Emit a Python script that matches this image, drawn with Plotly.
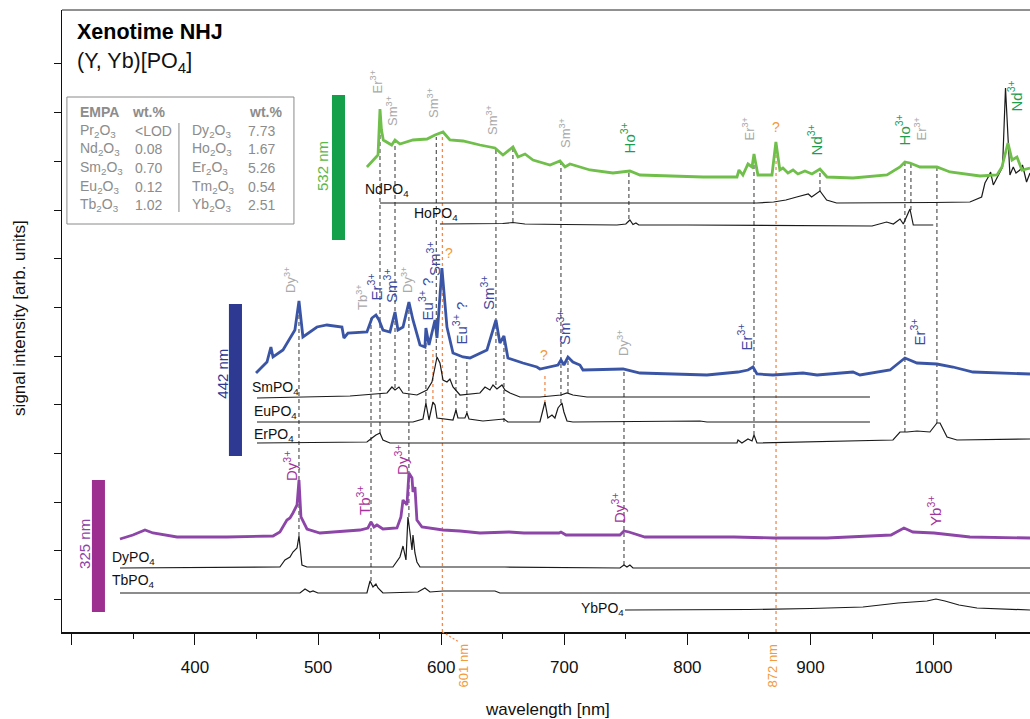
import plotly.graph_objects as go

# ---------------- axis ranges ----------------
X_RANGE = [292.0, 1078.3]
Y_RANGE = [0, 622]
x_major = [300, 400, 500, 600, 700, 800, 900, 1000]
x_major_text = ["", "400", "500", "600", "700", "800", "900", "1000"]
y_ticks = [33, 82, 130, 179, 228, 276, 325, 374, 422, 471, 520, 569]

# ---------------- spectra (wavelength nm, signal arb. units) ----------------
wl_532 = [539.7, 544.6, 548.7, 550.3, 551.5, 553.0, 559.8, 562.5, 566.5, 577.1, 588.5, 595.0, 601.5, 607.1,
          617.7, 631.5, 643.7, 650.2, 658.3, 662.4, 668.1, 674.6, 688.4, 696.5, 700.6, 704.6, 720.9, 739.5,
          753.3, 761.5, 794.0, 812.7, 840.3, 841.9, 845.1, 849.2, 852.5, 854.1, 857.3, 868.7, 871.9, 875.1,
          877.6, 881.7, 885.8, 889.8, 895.5, 901.2, 907.7, 913.4, 934.5, 962.1, 972.7, 976.7, 980.8, 988.9,
          1002.7, 1013.3, 1037.7, 1051.5, 1055.5, 1060.4, 1063.7, 1067.7, 1071.8, 1078.3]
sig_532 = [13, 20, 25, 71, 50, 40, 35, 40, 36, 40, 41, 45, 48, 40,
           39, 35, 32, 25, 33, 23, 26, 20, 15, 19, 13, 16, 10, 7,
           9, 5, 4, 3, 3, 10, 5, 16, 13, 26, 5, 5, 38, 10,
           12, 7, 10, 6, 9, 6, 11, 3, 2, 5, 13, 18, 17, 13,
           13, 8, 4, 5, 13, 37, 20, 23, 10, 12]

wl_nd = [550.3, 856.3, 870.0, 880.0, 888.8, 898.2, 900.9, 907.7, 913.1, 921.2, 1000.0, 1029.5, 1039.0, 1041.7,
         1044.4, 1046.3, 1048.5, 1053.9, 1056.0, 1058.4, 1060.6, 1062.0, 1064.7, 1066.9, 1070.1, 1072.2,
         1075.5, 1078.3]
sig_nd = [0, 0, 1, 3, 6, 9, 6, 12, 3, 0, 0.5, 1, 6, 20,
          26, 31, 18, 30, 36, 115, 63, 28, 36, 30, 33, 38,
          21, 30]

wl_ho = [599.0, 640.0, 650.0, 658.3, 668.0, 700.0, 742.8, 750.0, 753.3, 755.8, 758.2, 760.5, 800.0, 950.0,
         961.8, 967.3, 972.7, 975.4, 980.8, 983.5, 999.7]
sig_ho = [1, 1, 1.5, 2.5, 1, 0.5, 0, 1, 5, 0.5, 2, 0, 0, -1,
          3, 1, 6, 1, 16, 0, 0]

wl_442 = [449.6, 458.5, 461.7, 463.4, 471.5, 481.2, 484.5, 487.7, 499.1, 507.2, 519.4, 521.0, 524.3, 539.7,
          543.8, 547.0, 549.5, 552.7, 558.4, 562.5, 564.9, 569.0, 573.8, 577.1, 582.8, 586.8, 587.6, 590.1,
          595.0, 596.6, 600.6, 604.7, 609.6, 617.7, 623.4, 637.2, 644.5, 647.7, 651.0, 654.2, 666.4, 677.8,
          680.2, 694.9, 697.3, 699.7, 703.0, 707.0, 712.7, 715.2, 747.7, 751.7, 761.5, 815.9, 837.0, 841.1,
          849.2, 853.3, 856.5, 869.5, 893.9, 905.3, 934.5, 940.2, 964.6, 976.7, 986.5, 1002.7, 1015.7,
          1032.0, 1078.3]
sig_442 = [2, 13, 28, 18, 25, 45, 74, 38, 48, 50, 48, 37, 42, 43,
           57, 60, 55, 45, 43, 63, 45, 48, 73, 55, 30, 28, 47, 30,
           55, 37, 107, 48, 22, 18, 17, 25, 55, 32, 39, 17, 12, 8,
           6, 10, 15, 10, 18, 13, 10, 5, 6, 5, 2, 0, 2, 3,
           5, 8, 1, 0, 2, 0, 3, 0, 5, 17, 12, 11, 8,
           3, 1]

wl_sm = [450.4, 525.9, 556.0, 560.0, 562.5, 565.7, 569.0, 580.3, 588.5, 592.5, 595.0, 596.6, 599.0, 601.5,
         604.7, 607.1, 609.6, 615.3, 631.5, 635.6, 639.6, 642.1, 645.3, 649.4, 651.8, 655.9, 664.0, 680.2,
         697.3, 702.2, 707.0, 718.4, 948.3]
sig_sm = [0, 2, 5, 11, 8, 11, 5, 3, 8, 16, 31, 41, 35, 18,
          16, 19, 11, 3, 5, 11, 8, 13, 9, 13, 8, 5, 1, 1,
          3, 5, 3, 1, 1]

wl_eu = [450.4, 577.1, 585.2, 587.6, 590.1, 591.7, 593.3, 595.0, 596.6, 609.6, 612.0, 613.6, 619.3, 620.9,
         622.6, 633.9, 651.0, 654.2, 680.2, 684.3, 686.7, 690.0, 692.4, 694.9, 698.1, 699.7, 702.2, 707.0,
         810.2, 815.9, 948.3]
sig_eu = [0, 0, 3, 19, 2, 10, 20, 17, 4, 2, 12, 4, 4, 9,
          3, 1, 3, 0, 0, 20, 4, 7, 4, 14, 19, 10, 1, 0,
          1, 0, 0]

wl_er = [450.4, 539.7, 543.8, 547.0, 550.3, 552.7, 558.4, 840.3, 841.1, 844.3, 849.2, 852.5, 854.1, 856.5,
         967.0, 972.7, 978.4, 986.5, 997.0, 1002.7, 1005.2, 1010.9, 1019.0, 1078.3]
sig_er = [0, 1, 5, 8, 10, 3, 0, 0, 3, 0, 4, 2, 8, 0,
          3, 11, 11, 12, 11, 20, 20, 6, 3, 4]

wl_325 = [339.1, 349.6, 359.4, 365.9, 385.4, 426.0, 463.4, 469.0, 474.7, 477.2, 479.6, 482.9, 484.5, 486.1,
          491.0, 501.5, 534.0, 540.5, 543.0, 545.4, 547.8, 552.7, 564.1, 567.3, 569.0, 572.2, 573.8, 576.3,
          577.1, 578.7, 580.3, 584.4, 601.5, 615.3, 631.5, 655.1, 667.2, 695.7, 697.3, 701.4, 745.2, 748.5,
          752.5, 765.5, 837.8, 870.3, 913.4, 965.4, 975.9, 983.2, 1000.3, 1029.5, 1078.3]
sig_325 = [1, 5, 10, 7, 3, 3, 4, 8, 20, 22, 27, 35, 60, 23,
           11, 7, 10, 12, 18, 13, 15, 11, 12, 23, 40, 35, 67, 62,
           48, 53, 20, 13, 10, 9, 7, 8, 7, 7, 8, 5, 5, 9,
           8, 3, 3, 2, 2, 5, 12, 8, 7, 3, 2]

wl_dy = [339.1, 469.0, 473.1, 477.2, 479.6, 482.9, 484.5, 486.9, 491.0, 560.8, 566.5, 569.0, 571.4, 573.0,
         574.6, 576.3, 577.1, 578.7, 580.3, 582.8, 651.8, 745.2, 748.5, 750.9, 753.3, 755.8, 1078.3]
sig_dy = [0, 1, 8, 11, 16, 20, 32, 3, 1, 1, 11, 22, 8, 51,
          36, 18, 33, 15, 6, 1, 1, 0, 3, 1, 3, 0, 0]

wl_tb = [339.1, 485.3, 489.4, 493.4, 495.9, 499.9, 539.7, 542.2, 544.6, 547.0, 548.7, 552.7, 581.1, 586.8,
         590.9, 601.5, 643.7, 647.7, 1078.3]
sig_tb = [0, 0, 4, 1, 2, 0, 0, 12, 6, 9, 5, 0, 1, 5,
          1, 2, 2, 0, 0]

wl_yb = [749.3, 850.0, 900.0, 942.6, 971.1, 994.6, 1001.9, 1009.2, 1020.6, 1035.2, 1078.3]
sig_yb = [0, 0.5, 1.5, 3, 7, 9, 11, 9, 5, 2, 0]

# vertical stacking offsets of each trace
baseline_532, baseline_nd, baseline_ho = 452, 429, 407
baseline_442, baseline_sm, baseline_eu, baseline_er = 257, 234, 210, 189
baseline_325, baseline_dy, baseline_tb, baseline_yb = 92, 64, 39, 22

# ---------------- guide lines (wavelength, top, bottom) ----------------
guide_wl = [550.3, 562.5, 596.0, 644.5, 658.3, 697.3, 703.0, 752.5, 854.1, 907.7, 976.7, 981.6, 1002.7,
            484.5, 543.0, 573.8, 587.6, 612.0, 620.9, 651.0, 748.5]
guide_top = [522, 490, 495, 482, 484, 471, 272, 461, 478, 463, 470, 469, 465,
             329, 314, 329, 292, 274, 274, 295, 264]
guide_bottom = [199, 244, 275, 247, 410, 229, 239, 413, 197, 441, 200, 422, 209,
                96, 51, 115, 229, 220, 217, 210, 67]
orange_wl = [601.0, 872.0, 593.3, 684.3]
orange_top = [500, 489, 282, 257]
orange_bottom = [0, 0, 227, 229]

# ---------------- ion labels ----------------
label_text = ["Er", "Sm", "Sm", "Sm", "Sm", "Ho", "Er", "Nd", "Ho", "Er", "Nd",
              "Dy", "Tb", "Er", "Sm", "Dy", "Eu", "Sm", "Eu", "Sm", "Sm", "Dy", "Er", "Er",
              "Dy", "Tb", "Dy", "Dy", "Yb"]
label_wl = [547.0, 560.0, 593.3, 641.3, 700.6, 751.7, 849.2, 903.6, 975.1, 988.9, 1066.1,
            477.2, 535.7, 546.2, 558.4, 572.2, 587.6, 593.3, 615.3, 637.2, 698.9, 747.7, 846.8, 987.3,
            477.2, 536.5, 567.3, 743.6, 1000.3]
label_y = [537, 504, 512, 495, 482, 477, 490, 475, 485, 490, 519,
           337, 320, 330, 327, 337, 310, 354, 285, 320, 285, 274, 279, 285,
           149, 115, 155, 107, 104]
label_kind = ["gray", "gray", "gray", "gray", "gray", "green", "gray", "green", "green", "gray", "green",
              "gray", "gray", "blue", "blue", "gray", "blueq", "blue", "blueq", "blue", "blue", "gray", "blue", "blue",
              "purple", "purple", "purple", "purple", "purple"]
qmark_wl = [871.9, 606.3, 683.5]
qmark_y = [495, 369, 267]

# reference compound labels
ref_names = ["Nd", "Ho", "Sm", "Eu", "Er", "Dy", "Tb", "Yb"]
ref_x = [536.5, 576.3, 444.7, 446.3, 446.3, 331.0, 331.0, 711.9]
ref_y = [442, 418, 244, 220, 197, 74, 51, 23]

# EMPA table
empa_oxide1 = ["Pr", "Nd", "Sm", "Eu", "Tb"]
empa_val1 = ["&lt;LOD", "0.08", "0.70", "0.12", "1.02"]
empa_oxide2 = ["Dy", "Ho", "Er", "Tm", "Yb"]
empa_val2 = ["7.73", "1.67", "5.26", "0.54", "2.51"]

# ---------------- styles ----------------
FONT = "Liberation Sans"
C_GREEN_LINE, C_GREEN_TXT, C_GREEN_BAR = "#6fbf4a", "#1f9d4f", "#14a04b"
C_BLUE_LINE, C_BLUE_TXT, C_BLUE_BAR = "#3a55a5", "#3c4aa0", "#2e3a91"
C_PURP_LINE, C_PURP_TXT, C_PURP_BAR = "#8d45a8", "#a4339c", "#9c2f8f"
C_GRAY = "#a9a9a9"
C_ORANGE = "#f39a3a"
C_ORANGE_LINE = "#f08a50"
C_REF = "#1a1a1a"

fig = go.Figure()

def add_trace(wl, sig, base, color, width):
    fig.add_trace(go.Scatter(x=wl, y=[base + s for s in sig], mode="lines",
                             line=dict(color=color, width=width), hoverinfo="skip",
                             showlegend=False))

add_trace(wl_nd, sig_nd, baseline_nd, C_REF, 1.2)
add_trace(wl_ho, sig_ho, baseline_ho, C_REF, 1.2)
add_trace(wl_532, sig_532, baseline_532, C_GREEN_LINE, 2.8)
add_trace(wl_sm, sig_sm, baseline_sm, C_REF, 1.2)
add_trace(wl_eu, sig_eu, baseline_eu, C_REF, 1.2)
add_trace(wl_er, sig_er, baseline_er, C_REF, 1.2)
add_trace(wl_442, sig_442, baseline_442, C_BLUE_LINE, 2.8)
add_trace(wl_dy, sig_dy, baseline_dy, C_REF, 1.2)
add_trace(wl_tb, sig_tb, baseline_tb, C_REF, 1.2)
add_trace(wl_yb, sig_yb, baseline_yb, C_REF, 1.2)
add_trace(wl_325, sig_325, baseline_325, C_PURP_LINE, 2.8)

shapes = []
for w, t, b in zip(guide_wl, guide_top, guide_bottom):
    shapes.append(dict(type="line", xref="x", yref="y", x0=w, x1=w, y0=b, y1=t, layer="below",
                       line=dict(color="#333333", width=1, dash="4px,3px")))
for w, t, b in zip(orange_wl, orange_top, orange_bottom):
    shapes.append(dict(type="line", xref="x", yref="y", x0=w, x1=w, y0=b, y1=t, layer="below",
                       line=dict(color=C_ORANGE_LINE, width=1.3, dash="3px,3px")))

def xp(nm):
    return (nm - X_RANGE[0]) / (X_RANGE[1] - X_RANGE[0])

# slanted connector below axis for 601 nm
shapes.append(dict(type="line", xref="paper", yref="paper", x0=xp(601.0), y0=0, x1=xp(613.6), y1=-0.015,
                   line=dict(color=C_ORANGE_LINE, width=1.2, dash="2px,2px")))
# top frame line
shapes.append(dict(type="line", xref="paper", yref="paper", x0=0, x1=1, y0=1, y1=1,
                   line=dict(color="#222222", width=1)))
# excitation bars
bars = [(511.3, 521.9, 392, 537, C_GREEN_BAR), (427.6, 438.2, 176, 328, C_BLUE_BAR),
        (316.3, 326.9, 20, 152, C_PURP_BAR)]
for x0, x1, y0, y1, c in bars:
    shapes.append(dict(type="rect", xref="x", yref="y", x0=x0, x1=x1, y0=y0, y1=y1,
                       fillcolor=c, line=dict(width=0)))
# EMPA box and separator
shapes.append(dict(type="rect", xref="x", yref="y", x0=296.0, x1=480.4, y0=408, y1=535,
                   line=dict(color="#8a8a8a", width=1), fillcolor="rgba(0,0,0,0)"))
shapes.append(dict(type="line", xref="x", yref="y", x0=387.0, x1=387.0, y0=420, y1=509,
                   line=dict(color="#8a8a8a", width=1)))

ann = []
kind_style = {"gray": (C_GRAY, 13), "green": (C_GREEN_TXT, 15), "blue": (C_BLUE_TXT, 15),
              "blueq": (C_BLUE_TXT, 15), "purple": (C_PURP_TXT, 15)}
for t, w, y, k in zip(label_text, label_wl, label_y, label_kind):
    col, sz = kind_style[k]
    txt = t + "<sup>3+</sup>" + (" ?" if k == "blueq" else "")
    ann.append(dict(text=txt, x=w, y=y, xref="x", yref="y", textangle=-90, showarrow=False,
                    xanchor="center", yanchor="bottom", font=dict(family=FONT, size=sz, color=col)))
for w, y in zip(qmark_wl, qmark_y):
    ann.append(dict(text="?", x=w, y=y, xref="x", yref="y", showarrow=False,
                    xanchor="center", yanchor="bottom", font=dict(family=FONT, size=14, color=C_ORANGE)))
for n, x, y in zip(ref_names, ref_x, ref_y):
    ann.append(dict(text=n + "PO<sub>4</sub>", x=x, y=y, xref="x", yref="y", showarrow=False,
                    xanchor="left", yanchor="middle", font=dict(family=FONT, size=14, color="#111111")))

# excitation labels
for txt, x, y, c in [("532 nm", 503.2, 466, "#5cb84a"), ("442 nm", 421.7, 258, C_BLUE_BAR),
                     ("325 nm", 309.8, 88, C_PURP_LINE)]:
    ann.append(dict(text=txt, x=x, y=y, xref="x", yref="y", textangle=-90, showarrow=False,
                    xanchor="center", yanchor="middle", font=dict(family=FONT, size=15, color=c)))

# title
ann.append(dict(text="<b>Xenotime NHJ</b>", x=302.5, y=600, xref="x", yref="y", showarrow=False,
                xanchor="left", yanchor="middle", font=dict(family=FONT, size=21.5, color="#000000")))
ann.append(dict(text="(Y, Yb)[PO<sub>4</sub>]", x=302.5, y=570, xref="x", yref="y", showarrow=False,
                xanchor="left", yanchor="middle", font=dict(family=FONT, size=21.5, color="#111111")))

# EMPA table text
C_TAB = "#8c8c8c"
for txt, x in [("<b>EMPA</b>", 305.0), ("<b>wt.%</b>", 347.2), ("<b>wt.%</b>", 442.2)]:
    ann.append(dict(text=txt, x=x, y=520, xref="x", yref="y", showarrow=False, xanchor="left",
                    yanchor="middle", font=dict(family=FONT, size=14, color=C_TAB)))
row_y = [501, 483, 464, 445, 427]
for i, ry in enumerate(row_y):
    for txt, x in [(empa_oxide1[i] + "<sub>2</sub>O<sub>3</sub>", 305.0), (empa_val1[i], 349.6),
                   (empa_oxide2[i] + "<sub>2</sub>O<sub>3</sub>", 395.9), (empa_val2[i], 441.4)]:
        ann.append(dict(text=txt, x=x, y=ry, xref="x", yref="y", showarrow=False, xanchor="left",
                        yanchor="middle", font=dict(family=FONT, size=14, color=C_TAB)))

# wavelength markers below the axis
ann.append(dict(text="601 nm", x=618.5, y=-0.016, xref="x", yref="paper", textangle=-90, showarrow=False,
                xanchor="center", yanchor="top", font=dict(family=FONT, size=13, color=C_ORANGE)))
ann.append(dict(text="872 nm", x=868.7, y=-0.016, xref="x", yref="paper", textangle=-90, showarrow=False,
                xanchor="center", yanchor="top", font=dict(family=FONT, size=13, color=C_ORANGE)))

# axis titles
ann.append(dict(text="wavelength [nm]", x=0.502, y=-0.124, xref="paper", yref="paper", showarrow=False,
                xanchor="center", yanchor="middle", font=dict(family=FONT, size=17, color="#111111")))
ann.append(dict(text="signal intensity [arb. units]", x=-0.0434, y=0.505, xref="paper", yref="paper",
                textangle=-90, showarrow=False, xanchor="center", yanchor="middle",
                font=dict(family=FONT, size=17, color="#111111")))

fig.update_layout(
    width=1030, height=719,
    margin=dict(l=62, r=0, t=10, b=87),
    paper_bgcolor="white", plot_bgcolor="white",
    font=dict(family=FONT, size=17, color="#111111"),
    shapes=shapes, annotations=ann, showlegend=False,
    xaxis=dict(range=X_RANGE, showgrid=False, zeroline=False, showline=True, linecolor="#111111",
               linewidth=2, ticks="outside", ticklen=11, tickwidth=1, tickcolor="#111111",
               tickvals=x_major, ticktext=x_major_text, ticklabelstandoff=8,
               tickfont=dict(family=FONT, size=17, color="#111111"),
               minor=dict(dtick=50, tick0=0, ticks="outside", ticklen=5, tickwidth=1, tickcolor="#111111")),
    yaxis=dict(range=Y_RANGE, showgrid=False, zeroline=False, showline=True, linecolor="#111111",
               linewidth=1, ticks="outside", ticklen=7, tickwidth=1, tickcolor="#111111",
               tickvals=y_ticks, showticklabels=False),
)

fig.write_html("out.html", config={"displayModeBar": False, "staticPlot": True},
               post_script="document.body.style.margin='0px';document.body.style.padding='0px';"
                           "document.documentElement.style.overflow='hidden';")
